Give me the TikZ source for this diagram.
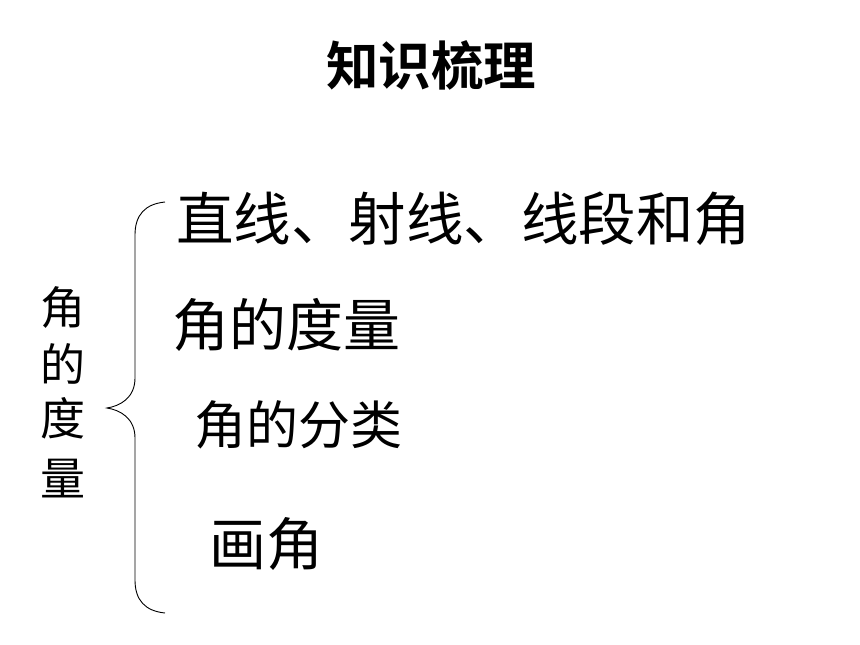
\documentclass[tikz,border=0pt]{standalone}
\usepackage{fontspec}
\newfontfamily\cjk[BoldFont={Noto Sans CJK SC Bold}]{Noto Sans CJK SC}
\begin{document}
\begin{tikzpicture}[x=1pt,y=-1pt,
  item/.style={anchor=base west,inner sep=0pt,font=\cjk\fontsize{57}{60}\selectfont},
  side/.style={anchor=base,inner sep=0pt,font=\cjk\fontsize{45}{50}\selectfont},
  brace/.style={line width=0.9pt,black}]
\useasboundingbox (0,0) rectangle (860,645);
\node[anchor=base,inner sep=0pt,font=\cjk\bfseries\fontsize{52.5}{56}\selectfont] (title) at (431,85) {知识梳理};
\node[item,font=\cjk\fontsize{57.5}{60}\selectfont] (l1) at (176,240) {直线、射线、线段和角};
\node[item] (l2) at (172,346) {角的度量};
\node[item,font=\cjk\fontsize{52}{56}\selectfont] (l3) at (194,444) {角的分类};
\node[item] (l4) at (209,565) {画角};
\node[side] (s1) at (63,324) {角};
\node[side] (s2) at (63,381) {的};
\node[side] (s3) at (63,435) {度};
\node[side] (s4) at (63,495) {量};
\coordinate (btop) at (165,202);
\coordinate (btip) at (107,408);
\coordinate (bbot) at (165,613);
\draw[brace] (btop) .. controls (145,204) and (135,215) .. (135,235)
  -- (135,378) .. controls (135,398) and (120,406) .. (btip)
  .. controls (120,410) and (135,418) .. (135,438)
  -- (135,580) .. controls (135,600) and (145,611) .. (bbot);
\end{tikzpicture}
\end{document}
